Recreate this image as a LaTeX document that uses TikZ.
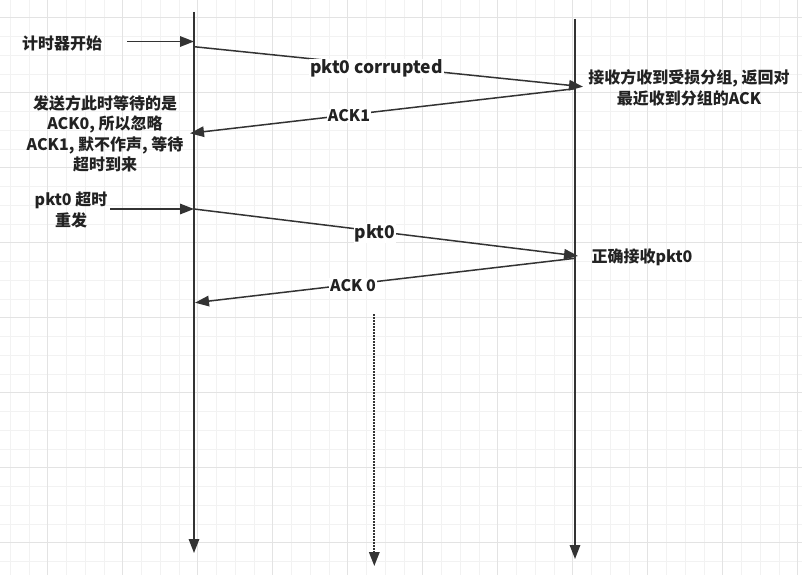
\documentclass[tikz,border=0pt]{standalone}
\usepackage{fontspec}
\setmainfont{Noto Sans CJK SC}
\usetikzlibrary{arrows.meta}
\definecolor{ln}{HTML}{333333}
\definecolor{txt}{HTML}{222222}
\definecolor{gridminor}{HTML}{F2F2F2}
\definecolor{gridmajor}{HTML}{E3E3E3}
\begin{document}
\begin{tikzpicture}[x=1pt,y=-1pt,
  msg/.style={line width=1.5pt, draw=ln, -{Triangle[length=14pt,width=10.5pt]}},
  dotline/.style={msg, line width=1.7pt, dash pattern=on 1.7pt off 1.3pt},
  lbl/.style={font=\bfseries\fontsize{16}{20.5}\selectfont, text=txt, align=center, inner sep=1pt},
  onl/.style={lbl, fill=white},
  big/.style={font=\bfseries\fontsize{17.5}{20}\selectfont}]
\useasboundingbox (0,0) rectangle (802,575);
\fill[white] (0,0) rectangle (802,575);
% grid
\foreach \k in {0,...,42} {
  \pgfmathsetmacro{\gx}{10.2+18.75*\k}
  \draw[gridminor, line width=0.8pt] (\gx,0) -- (\gx,575);
}
\foreach \k in {-1,...,30} {
  \pgfmathsetmacro{\gy}{17.7+18.75*\k}
  \draw[gridminor, line width=0.8pt] (0,\gy) -- (802,\gy);
}
\foreach \k in {0,...,10} {
  \pgfmathsetmacro{\gx}{47.7+75*\k}
  \draw[gridmajor, line width=0.8pt] (\gx,0) -- (\gx,575);
}
\foreach \k in {0,...,7} {
  \pgfmathsetmacro{\gy}{17.7+75*\k}
  \draw[gridmajor, line width=0.8pt] (0,\gy) -- (802,\gy);
}
% lifelines
\coordinate (Ltop) at (194,12);
\coordinate (Lbot) at (194,553);
\coordinate (Rtop) at (575,19);
\coordinate (Rbot) at (575,559);
\coordinate (Dtop) at (374.3,314);
\coordinate (Dbot) at (374.3,566);
\draw[msg] (Ltop) -- (Lbot);
\draw[msg] (Rtop) -- (Rbot);
\draw[dotline] (Dtop) -- (Dbot);
% side notes
\node[lbl] (timer) at (62,43) {计时器开始};
\coordinate (timerA) at (127,41.5);
\coordinate (timerB) at (194,41.5);
\draw[msg] (timerA) -- (timerB);
\node[lbl] (ignore) at (105,134) {发送方此时等待的是\\ACK0, 所以忽略\\ACK1, 默不作声, 等待\\超时到来};
\node[lbl] (resend) at (71,210) {pkt0 超时\\重发};
\coordinate (resendA) at (110,209);
\coordinate (resendB) at (194,209);
\draw[msg] (resendA) -- (resendB);
\node[lbl] (rxbad) at (689,88) {接收方收到受损分组, 返回对\\最近收到分组的ACK};
\node[lbl] (rxok) at (642,257) {正确接收pkt0};
% messages
\coordinate (m1s) at (194,46.7);
\coordinate (m1e) at (583,86.7);
\coordinate (m2s) at (575,88.7);
\coordinate (m2e) at (190,133.3);
\coordinate (m3s) at (194,209);
\coordinate (m3e) at (578,256);
\coordinate (m4s) at (575,258.3);
\coordinate (m4e) at (195,302.7);
\draw[msg] (m1s) -- node[onl,big,pos=0.469,yshift=-3pt] (l1) {pkt0 corrupted} (m1e);
\draw[msg] (m2s) -- node[onl,pos=0.587,yshift=-1pt] (l2) {ACK1} (m2e);
\draw[msg] (m3s) -- node[onl,big,pos=0.471,yshift=-2pt] (l3) {pkt0} (m3e);
\draw[msg] (m4s) -- node[onl,pos=0.584,yshift=-1pt] (l4) {ACK 0} (m4e);
\end{tikzpicture}
\end{document}
